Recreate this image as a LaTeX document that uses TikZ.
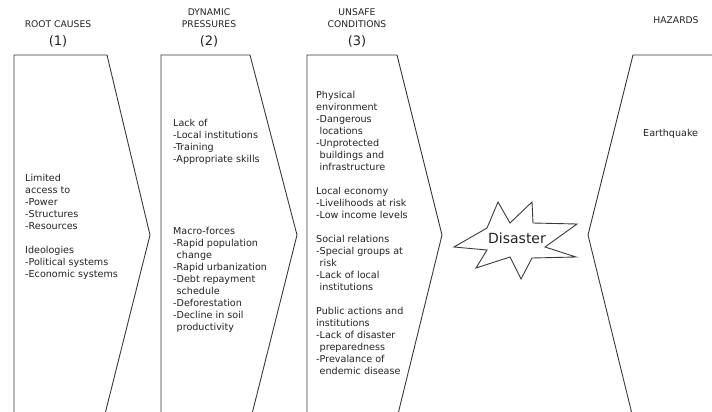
\documentclass[tikz,border=0pt]{standalone}
\usepackage{tikz}
\usepackage{fontspec}
\setsansfont{DejaVu Sans}
\usepackage{xcolor}
\definecolor{outline}{HTML}{3A3A3A}
\definecolor{ink}{HTML}{222222}

\begin{document}
\begin{tikzpicture}[x=1pt,y=-1pt,
		box/.style={draw=outline,line width=0.9pt,line join=miter},
		body/.style={anchor=north west,inner sep=0pt,align=left,text=ink,font=\sffamily\fontsize{9.6}{12}\selectfont},
		head/.style={anchor=south,inner sep=0pt,align=center,text=ink,font=\sffamily\fontsize{9.2}{12}\selectfont}]
		\useasboundingbox (0,0) rectangle (712,412);
		%
		\coordinate (R1) at (14,414);
		\coordinate (R2) at (14,55);
		\coordinate (R3) at (107,55);
		\coordinate (R4) at (150,235);
		\coordinate (R5) at (105,414);
		%
		\coordinate (P1) at (161,414);
		\coordinate (P2) at (161,55);
		\coordinate (P3) at (250,55);
		\coordinate (P4) at (297,235);
		\coordinate (P5) at (252,414);
		%
		\coordinate (U1) at (307,414);
		\coordinate (U2) at (307,55);
		\coordinate (U3) at (397,55);
		\coordinate (U4) at (442,235);
		\coordinate (U5) at (398,414);
		%
		\coordinate (H1) at (714,55);
		\coordinate (H2) at (633,55);
		\coordinate (H3) at (588,235);
		\coordinate (H4) at (632,414);
		%
		\draw[box] (R1) -- (R2) -- (R3) -- (R4) -- (R5);
		\draw[box] (P1) -- (P2) -- (P3) -- (P4) -- (P5);
		\draw[box] (U1) -- (U2) -- (U3) -- (U4) -- (U5);
		\draw[box] (H1) -- (H2) -- (H3) -- (H4);
		%
		\draw[box] (498,202) -- (510,223) -- (532,202) -- (533,223) -- (577,224) -- (545,247) -- (576,257)
			-- (532,258) -- (521,279) -- (510,257) -- (476,268) -- (487,250) -- (454,247) -- (487,228) -- cycle;
		\node[text=ink,font=\sffamily\fontsize{14}{16}\selectfont] (dis) at (517,238) {Disaster};
		%
		\node[head] (rootT) at (58,47.5) {ROOT CAUSES\\[6pt]{\fontsize{13}{15}\selectfont (1)}};
		\node[head] (presT) at (209,47.5) {DYNAMIC\\PRESSURES\\[6pt]{\fontsize{13}{15}\selectfont (2)}};
		\node[head] (unsT) at (357,47.5) {UNSAFE\\CONDITIONS\\[6pt]{\fontsize{13}{15}\selectfont (3)}};
		\node[head,anchor=base] (hazT) at (676,23.5) {HAZARDS};
		%
		\node[body] (root) at (25,174.3) {Limited\\access to\\-Power\\-Structures\\-Resources\\[12pt]
			Ideologies\\-Political systems\\-Economic systems};
		\node[body] (pres) at (173,119.3) {Lack of\\-Local institutions\\-Training\\-Appropriate skills\\[60pt]
			Macro-forces\\-Rapid population\\\phantom{-}change\\-Rapid urbanization\\-Debt repayment\\\phantom{-}schedule\\-Deforestation\\-Decline in soil\\\phantom{-}productivity};
		\node[body] (uns) at (316,91.3) {Physical\\environment\\-Dangerous\\\phantom{-}locations\\-Unprotected\\\phantom{-}buildings and\\\phantom{-}infrastructure\\[12pt]
			Local economy\\-Livelihoods at risk\\-Low income levels\\[12pt]
			Social relations\\-Special groups at\\\phantom{-}risk\\-Lack of local\\\phantom{-}institutions\\[12pt]
			Public actions and\\institutions\\-Lack of disaster\\\phantom{-}preparedness\\-Prevalance of\\\phantom{-}endemic disease};
		\node[body,anchor=base west] (haz) at (643,136.5) {Earthquake};
	\end{tikzpicture}
\end{document}
